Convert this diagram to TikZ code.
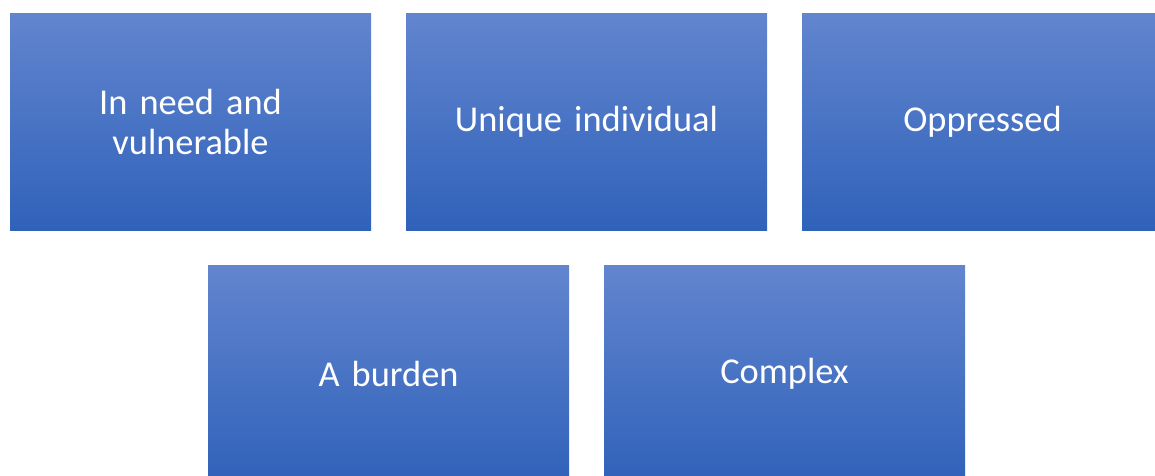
\documentclass[tikz,border=0pt]{standalone}
\usepackage{fontspec}
\setmainfont{Carlito}
\definecolor{boxtop}{RGB}{98,133,206}
\definecolor{boxbot}{RGB}{48,98,186}
\begin{document}
\begin{tikzpicture}[x=1pt,y=-1pt,
  gbox/.style={rectangle, inner sep=0pt, minimum width=361pt, minimum height=217pt,
    top color=boxtop, bottom color=boxbot, draw=none,
    text=white, font=\fontsize{36.4}{40}\selectfont, align=center, text width=340pt}]
\useasboundingbox (0,0) rectangle (1155,475);
\clip (0,0) rectangle (1155,475);
\node[gbox] (a) at (190.5,121.5) {In need and\\vulnerable};
\node[gbox] (b) at (586.5,121.5) {Unique individual};
\node[gbox] (c) at (982.5,121.5) {Oppressed};
\node[gbox] (d) at (388.5,373.5) {A burden};
\node[gbox] (e) at (784.5,373.5) {Complex};
\end{tikzpicture}
\end{document}
